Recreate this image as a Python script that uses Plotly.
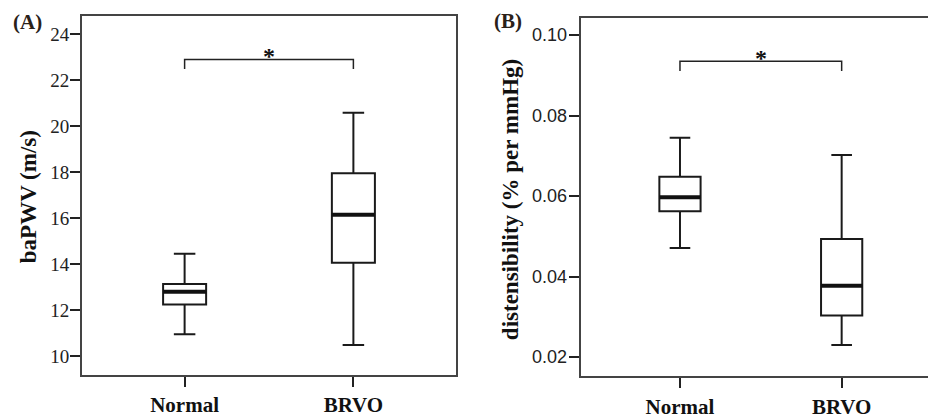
import plotly.graph_objects as go

categories = ["Normal", "BRVO"]

# Panel A: baPWV (m/s)
a_lower = [10.95, 10.49]
a_q1 = [12.25, 14.06]
a_median = [12.80, 16.15]
a_q3 = [13.14, 17.96]
a_upper = [14.45, 20.59]
a_ticks = [10, 12, 14, 16, 18, 20, 22, 24]

# Panel B: distensibility (% per mmHg)
b_lower = [0.0471, 0.0230]
b_q1 = [0.0562, 0.0303]
b_median = [0.0597, 0.0377]
b_q3 = [0.0648, 0.0493]
b_upper = [0.0745, 0.0702]
b_ticks = [0.02, 0.04, 0.06, 0.08, 0.10]

BOX_W = 0.255
W, H = 928, 419

fig = go.Figure()

def add_box(xa, ya, lo, q1, med, q3, up):
    fig.add_trace(go.Box(
        x=categories, lowerfence=lo, q1=q1, median=med, q3=q3, upperfence=up,
        xaxis=xa, yaxis=ya, width=BOX_W, whiskerwidth=0.5,
        fillcolor="white", line=dict(color="#1a1a1a", width=2),
        boxpoints=False, hoverinfo="skip", showlegend=False))
    for i, m in enumerate(med):
        fig.add_shape(type="line", xref=xa, yref=ya,
                      x0=i - BOX_W / 2, x1=i + BOX_W / 2, y0=m, y1=m,
                      line=dict(color="#111", width=4))

add_box("x", "y", a_lower, a_q1, a_median, a_q3, a_upper)
add_box("x2", "y2", b_lower, b_q1, b_median, b_q3, b_upper)

# significance brackets
def bracket(xa, ya, top, drop, star_y):
    c0, c1 = categories
    fig.add_trace(go.Scatter(x=[c0, c0, c1, c1], y=[drop, top, top, drop], mode="lines",
                             xaxis=xa, yaxis=ya, line=dict(color="#222", width=1.5),
                             hoverinfo="skip", showlegend=False))
    fig.add_annotation(x=0.5, y=star_y, xref=xa, yref=ya, text="<b>*</b>", showarrow=False,
                       font=dict(family="Liberation Serif", size=24, color="#111"),
                       yanchor="middle")

bracket("x", "y", 22.9, 22.49, 23.05)
bracket("x2", "y2", 0.0935, 0.0911, 0.0944)

def px_x(p):
    return p / W

def px_y(p):
    return 1 - p / H

axis_common = dict(showgrid=False, zeroline=False, showline=True, linecolor="#444",
                   linewidth=2, ticks="outside", ticklen=10, tickcolor="#222", tickwidth=2)

xtickfont = dict(family="Liberation Serif", size=21, color="#111", weight="bold")

fig.update_layout(
    width=W, height=H, margin=dict(l=0, r=0, t=0, b=0),
    paper_bgcolor="white", plot_bgcolor="white",
    xaxis=dict(domain=[px_x(82), px_x(456)], range=[-0.608, 1.608], anchor="y",
               mirror=True, tickfont=xtickfont, type="category", **axis_common),
    yaxis=dict(domain=[px_y(384), px_y(16)], range=[9.19, 24.81], anchor="x",
               mirror=True, tickvals=a_ticks, ticktext=[str(t) for t in a_ticks],
               ticklabelstandoff=-3,
               tickfont=dict(family="Liberation Serif", size=19, color="#222"), **axis_common),
    xaxis2=dict(domain=[px_x(580.7), 1.0], range=[-0.614, 1.534], anchor="y2",
                mirror=True, tickfont=xtickfont, type="category", **axis_common),
    yaxis2=dict(domain=[px_y(385.7), px_y(18.3)], range=[0.01515, 0.1043], anchor="x2",
                mirror=False, tickvals=b_ticks, ticktext=[f"{t:.2f}" for t in b_ticks],
                ticklabelstandoff=-2,
                tickfont=dict(family="Liberation Sans Narrow, Liberation Sans, sans-serif", size=18, color="#222"),
                **axis_common),
)

title_font = dict(family="Liberation Serif", size=23, color="#111", weight="bold")
fig.add_annotation(x=px_x(28), y=px_y(202), xref="paper", yref="paper", text="baPWV (m/s)",
                   textangle=-90, showarrow=False, font=title_font, xanchor="center", yanchor="middle")
fig.add_annotation(x=px_x(510), y=px_y(204), xref="paper", yref="paper",
                   text="distensibility (% per mmHg)",
                   textangle=-90, showarrow=False, font=title_font, xanchor="center", yanchor="middle")

panel_font = dict(family="Liberation Serif", size=21, color="#2a2118", weight="bold")
fig.add_annotation(x=px_x(27), y=px_y(23), xref="paper", yref="paper", text="(A)",
                   showarrow=False, font=panel_font, xanchor="center", yanchor="middle")
fig.add_annotation(x=px_x(508), y=px_y(22), xref="paper", yref="paper", text="(B)",
                   showarrow=False, font=panel_font, xanchor="center", yanchor="middle")

fig.write_html("out.html", config={"displayModeBar": False},
               post_script="document.body.style.margin='0';document.body.style.overflow='hidden';")
